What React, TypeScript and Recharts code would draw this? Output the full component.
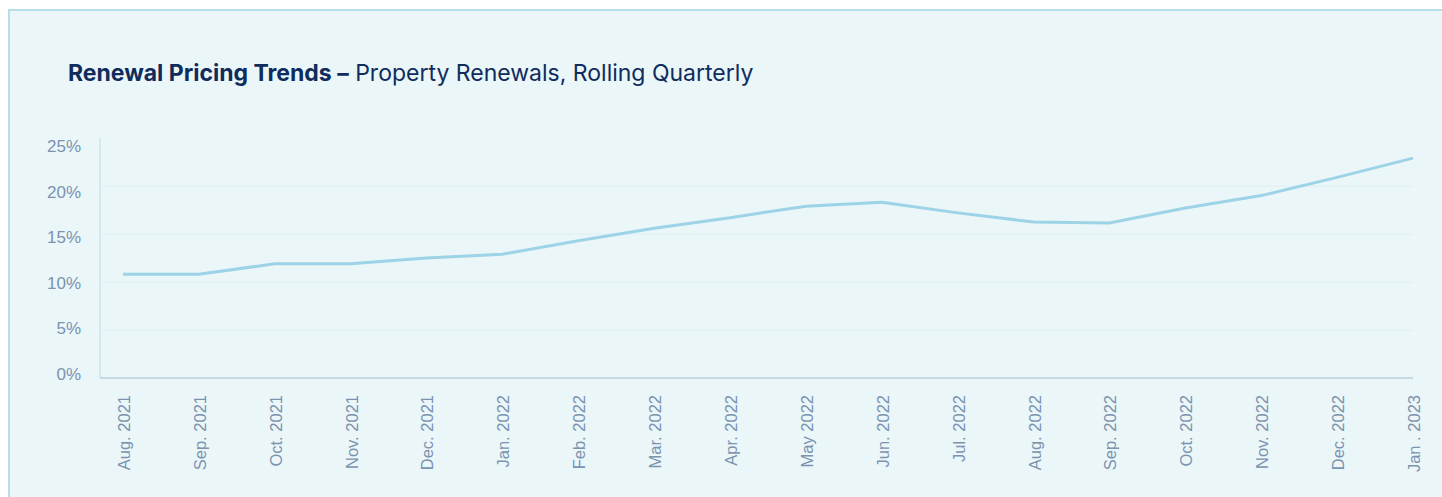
import { LineChart, Line, XAxis, YAxis, CartesianGrid } from 'recharts';

const MONTHS = [
  'Aug. 2021', 'Sep. 2021', 'Oct. 2021', 'Nov. 2021', 'Dec. 2021',
  'Jan. 2022', 'Feb. 2022', 'Mar. 2022', 'Apr. 2022', 'May 2022',
  'Jun. 2022', 'Jul. 2022', 'Aug. 2022', 'Sep. 2022', 'Oct. 2022',
  'Nov. 2022', 'Dec. 2022', 'Jan . 2023',
];
const RENEWAL = [
  10.8, 10.8, 11.9, 11.9, 12.5, 12.9, 14.3, 15.6, 16.7,
  17.9, 18.3, 17.2, 16.25, 16.15, 17.7, 19.0, 20.9, 22.9,
];
const Y_TICKS = [0, 5, 10, 15, 20, 25];
const GRID_VALUES = [5, 10, 15, 20];

const TICK_COLOR = '#7a93ae';
const TICK_FONT = '"Liberation Sans", Arial, sans-serif';

const rows = MONTHS.map((m, i) => ({ month: m, value: RENEWAL[i] }));

function MonthTick({ x, y, payload }: any) {
  return (
    <text
      x={0}
      y={0}
      dy="0.36em"
      textAnchor="end"
      transform={`translate(${x + 1},${y + 9}) rotate(-90)`}
      fill={TICK_COLOR}
      fontSize={16.5}
      fontFamily={TICK_FONT}
    >
      {payload.value}
    </text>
  );
}

function PctTick({ x, y, payload }: any) {
  // les libellés ne tombent pas pile sur la grille dans l'original
  const shift = -4.5 + payload.value * 0.5;
  return (
    <text
      x={x}
      y={y + shift}
      dy="0.36em"
      textAnchor="end"
      fill={TICK_COLOR}
      fontSize={17}
      fontFamily={TICK_FONT}
    >
      {`${payload.value}%`}
    </text>
  );
}

export default function App() {
  return (
    <div
      style={{
        position: 'absolute',
        left: 8,
        top: 9,
        width: 1434,
        height: 488,
        overflow: 'hidden',
      }}
    >
      <div
        style={{
          position: 'relative',
          width: 1500,
          height: 520,
          background: '#ebf6f9',
          border: '2px solid #b6dde9',
        }}
      >
        <div
          style={{
            position: 'absolute',
            left: 58,
            top: 48,
            fontFamily: 'Inter, "Noto Sans", sans-serif',
            fontSize: 23,
            color: '#0f2c5c',
            whiteSpace: 'nowrap',
          }}
        >
          <b style={{ fontWeight: 700 }}>Renewal Pricing Trends –</b> Property Renewals, Rolling Quarterly
        </div>
        <div style={{ position: 'absolute', left: 0, top: -1 }}>
          <LineChart
            width={1432}
            height={487}
            data={rows}
            margin={{ top: 128, right: 29, bottom: 0, left: 0 }}
          >
            <CartesianGrid
              vertical={false}
              horizontalValues={GRID_VALUES}
              stroke="#deeef3"
              strokeWidth={1}
            />
            <XAxis
              dataKey="month"
              interval={0}
              height={119}
              padding={{ left: 23, right: 0 }}
              axisLine={{ stroke: '#b8d0e0', strokeWidth: 1.5 }}
              tickLine={false}
              tick={<MonthTick />}
            />
            <YAxis
              width={90}
              domain={[0, 25]}
              ticks={Y_TICKS}
              tickSize={0}
              tickMargin={19}
              axisLine={{ stroke: '#c3d9e6', strokeWidth: 1 }}
              tickLine={false}
              tick={<PctTick />}
            />
            <Line
              type="linear"
              dataKey="value"
              stroke="#9dd3e6"
              strokeWidth={3}
              dot={false}
              activeDot={false}
              isAnimationActive={false}
            />
          </LineChart>
        </div>
      </div>
    </div>
  );
}
